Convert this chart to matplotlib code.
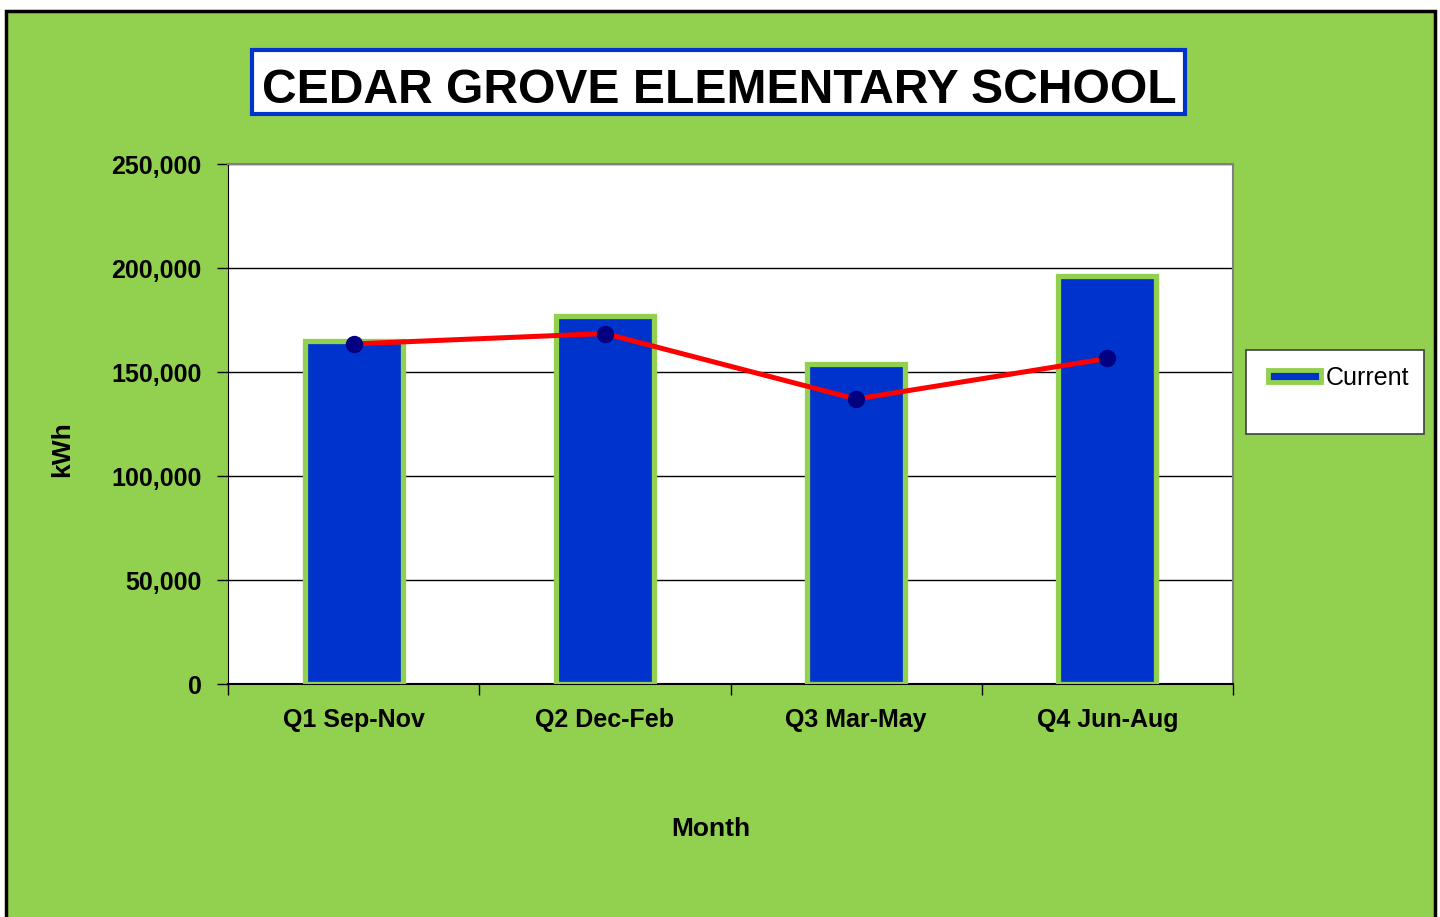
import matplotlib
matplotlib.use("Agg")
import matplotlib.pyplot as plt
from matplotlib import font_manager
from matplotlib.patches import Rectangle, Patch
from matplotlib.ticker import FuncFormatter
import numpy as np

# data
quarters = ["Q1 Sep-Nov", "Q2 Dec-Feb", "Q3 Mar-May", "Q4 Jun-Aug"]
current_kwh = [165000, 177000, 154000, 196000]
baseline_kwh = [163500, 168500, 137000, 156500]
yticks = [0, 50000, 100000, 150000, 200000, 250000]

GREEN = "#92D050"
BLUE = "#0033CC"

arial = ["Liberation Sans", "DejaVu Sans"]
# tick labels are Arial Narrow in the original; use it if it is around
installed = {f.name for f in font_manager.fontManager.ttflist}
if "Liberation Sans Narrow" in installed:
    tick_family, tick_size = ["Liberation Sans Narrow"] + arial, 21
else:
    tick_family, tick_size = arial, 18

fig = plt.figure(figsize=(14.4, 9.17), dpi=100)
fig.patch.set_facecolor("white")

# green chart area with black border (runs off the bottom edge)
fig.patches.append(Rectangle((5.5 / 1440, -0.02), 1429.5 / 1440, 1.02 - 10.5 / 917,
                             transform=fig.transFigure, facecolor=GREEN,
                             edgecolor="black", linewidth=2.5, zorder=-2))

ax = fig.add_axes([228 / 1440, 1 - 684 / 917, 1005 / 1440, 520 / 917])
ax.set_zorder(1)
ax.set_facecolor("white")

x = np.arange(len(quarters))
ax.bar(x, current_kwh, width=0.39, color=BLUE, edgecolor=GREEN, linewidth=3.8,
       zorder=3, label="Current")
ax.plot(x, baseline_kwh, color="#FF0000", linewidth=3.6, marker="o",
        markersize=11.5, markerfacecolor="#000080", markeredgecolor="#000080",
        zorder=4)

ax.set_xlim(-0.5, len(quarters) - 0.5)
ax.set_ylim(0, 250000)
ax.set_yticks(yticks)
ax.yaxis.set_major_formatter(FuncFormatter(lambda v, p: f"{int(v):,}"))
ax.grid(axis="y", color="black", linewidth=1.0, zorder=1)
ax.set_axisbelow(True)

ax.set_xticks(x)
ax.set_xticklabels(quarters)
ax.set_xticks(np.arange(len(quarters) + 1) - 0.5, minor=True)
ax.tick_params(axis="x", which="major", length=0, pad=17)
ax.tick_params(axis="x", which="minor", length=8, width=1, direction="out", color="black")
ax.tick_params(axis="y", length=8, width=1, direction="out", pad=11, color="black")

for lab in ax.get_xticklabels() + ax.get_yticklabels():
    lab.set_fontfamily(tick_family)
    lab.set_fontweight("bold")
    lab.set_fontsize(tick_size)

for side in ["top", "right"]:
    ax.spines[side].set_color("#808080")
    ax.spines[side].set_linewidth(1.5)
ax.spines["left"].set_color("black")
ax.spines["bottom"].set_color("black")
ax.spines["bottom"].set_linewidth(1.5)

fig.text(62 / 1440, 1 - 449 / 917, "kWh", family=arial, fontweight="bold",
         fontsize=19, rotation=90, ha="center", va="center")
fig.text(711 / 1440, 1 - 829 / 917, "Month", family=arial, fontweight="bold",
         fontsize=19, ha="center", va="center")

# title in blue-bordered box
fig.patches.append(Rectangle((252 / 1440, 1 - 114 / 917), 933 / 1440, 64 / 917,
                             transform=fig.transFigure, facecolor="white",
                             edgecolor=BLUE, linewidth=3, zorder=-1))
fig.text(719 / 1440, 1 - 103 / 917, "CEDAR GROVE ELEMENTARY SCHOOL", family=arial,
         fontweight="bold", fontsize=34.6, ha="center", va="baseline")

# legend box
fig.patches.append(Rectangle((1246 / 1440, 1 - 434 / 917), 178 / 1440, 84 / 917,
                             transform=fig.transFigure, facecolor="white",
                             edgecolor="#404040", linewidth=1.2, zorder=-1))
handle = Patch(facecolor=BLUE, edgecolor=GREEN, linewidth=3.5)
leg = fig.legend([handle], ["Current"], loc="center left",
                 bbox_to_anchor=(1268 / 1440, 1 - 378 / 917), frameon=False,
                 prop=dict(family=arial, size=18), handlelength=2.1,
                 handleheight=0.4, handletextpad=0.2, borderpad=0,
                 borderaxespad=0)
leg.set_zorder(5)

fig.savefig("out.png", dpi=100, facecolor=fig.get_facecolor())
